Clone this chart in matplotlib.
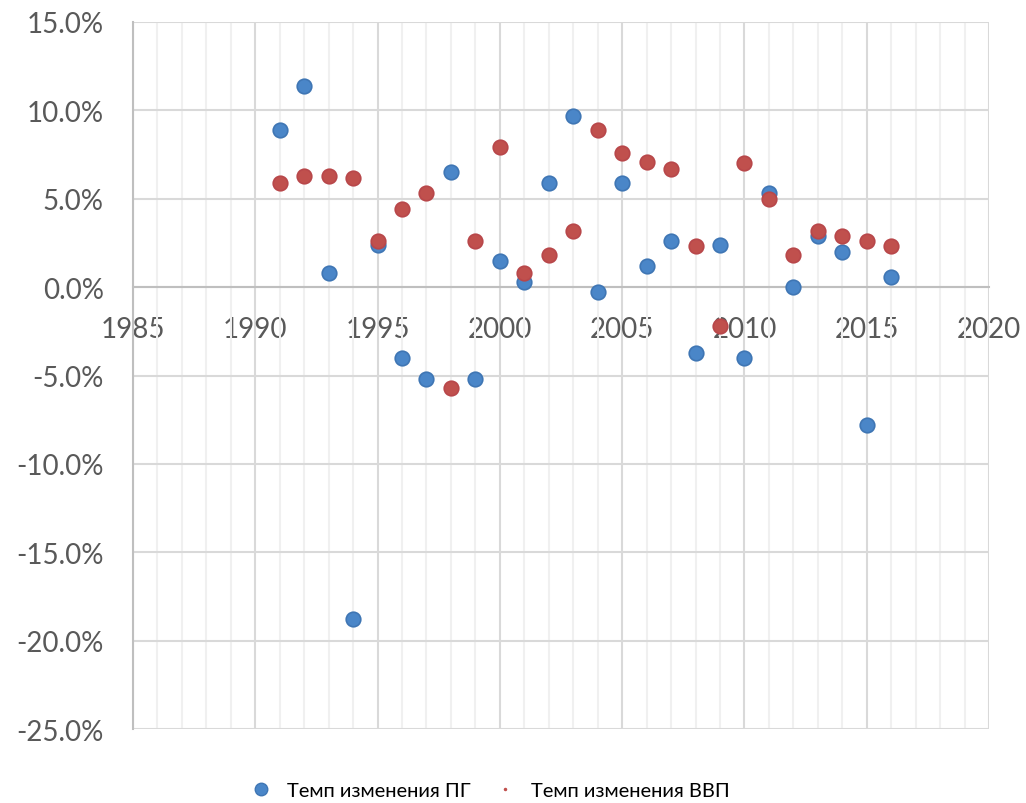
import matplotlib
matplotlib.use("Agg")
import matplotlib.pyplot as plt
from matplotlib.ticker import MultipleLocator, FuncFormatter
from matplotlib.lines import Line2D

years = list(range(1991, 2017))
pg_rate = [8.9, 11.4, 0.8, -18.8, 2.4, -4.0, -5.2, 6.5, -5.2, 1.5, 0.3, 5.9, 9.7,
           -0.3, 5.9, 1.2, 2.6, -3.7, 2.4, -4.0, 5.3, 0.0, 2.9, 2.0, -7.8, 0.6]
gdp_rate = [5.9, 6.3, 6.3, 6.2, 2.6, 4.4, 5.3, -5.7, 2.6, 7.9, 0.8, 1.8, 3.2,
            8.9, 7.6, 7.1, 6.7, 2.3, -2.2, 7.0, 5.0, 1.8, 3.2, 2.9, 2.6, 2.3]
labels = ["Темп изменения ПГ", "Темп изменения ВВП"]

blue = "#4A86C8"
blue_edge = "#3F76B4"
red = "#C0504D"
red_edge = "#B8474A"

plt.rcParams['font.family'] = ['Lato', 'DejaVu Sans']

fig = plt.figure(figsize=(10.26, 8.04), dpi=100)
ax = fig.add_axes([0.1296, 0.092, 0.964 - 0.1296, 0.9714 - 0.092])

pg = [v / 100 for v in pg_rate]
gdp = [v / 100 for v in gdp_rate]
ax.scatter(years, pg, s=110, color=blue, edgecolors=blue_edge, linewidths=1.2, zorder=3)
ax.scatter(years, gdp, s=110, color=red, edgecolors=red_edge, linewidths=1.2, zorder=4)

ax.set_xlim(1985, 2020)
ax.set_ylim(-0.25, 0.15)
ax.xaxis.set_major_locator(MultipleLocator(5))
ax.xaxis.set_minor_locator(MultipleLocator(1))
ax.yaxis.set_major_locator(MultipleLocator(0.05))
ax.yaxis.set_major_formatter(FuncFormatter(lambda v, p: f"{v*100:.1f}%"))

ax.grid(which='minor', axis='x', color='#F0F0F0', lw=1.5, zorder=0)
ax.grid(which='major', axis='both', color='#D9D9D9', lw=1.5, zorder=1)

for s in ['top', 'right']:
    ax.spines[s].set_visible(False)
ax.spines['bottom'].set_position(('data', 0))
ax.spines['bottom'].set_color('#BFBFBF')
ax.spines['bottom'].set_linewidth(1.5)
ax.spines['left'].set_color('#BFBFBF')
ax.spines['left'].set_linewidth(1.5)
ax.set_axisbelow(True)

ax.tick_params(axis='both', which='both', length=0, labelsize=20, labelcolor='#595959')
ax.tick_params(axis='x', pad=21)
ax.tick_params(axis='y', pad=21)

handles = [
    Line2D([], [], marker='o', linestyle='none', markersize=9, markerfacecolor=blue,
           markeredgecolor=blue_edge),
    Line2D([], [], marker='o', linestyle='none', markersize=1.5, markerfacecolor=red,
           markeredgecolor=red),
]
fig.legend(handles, labels, loc='lower center', bbox_to_anchor=(0.478, -0.018), ncol=2,
           frameon=False, fontsize=14.5, handlelength=1.0, handletextpad=0.8,
           columnspacing=1.2, labelcolor='#000000')

fig.savefig("out.png", dpi=100)
